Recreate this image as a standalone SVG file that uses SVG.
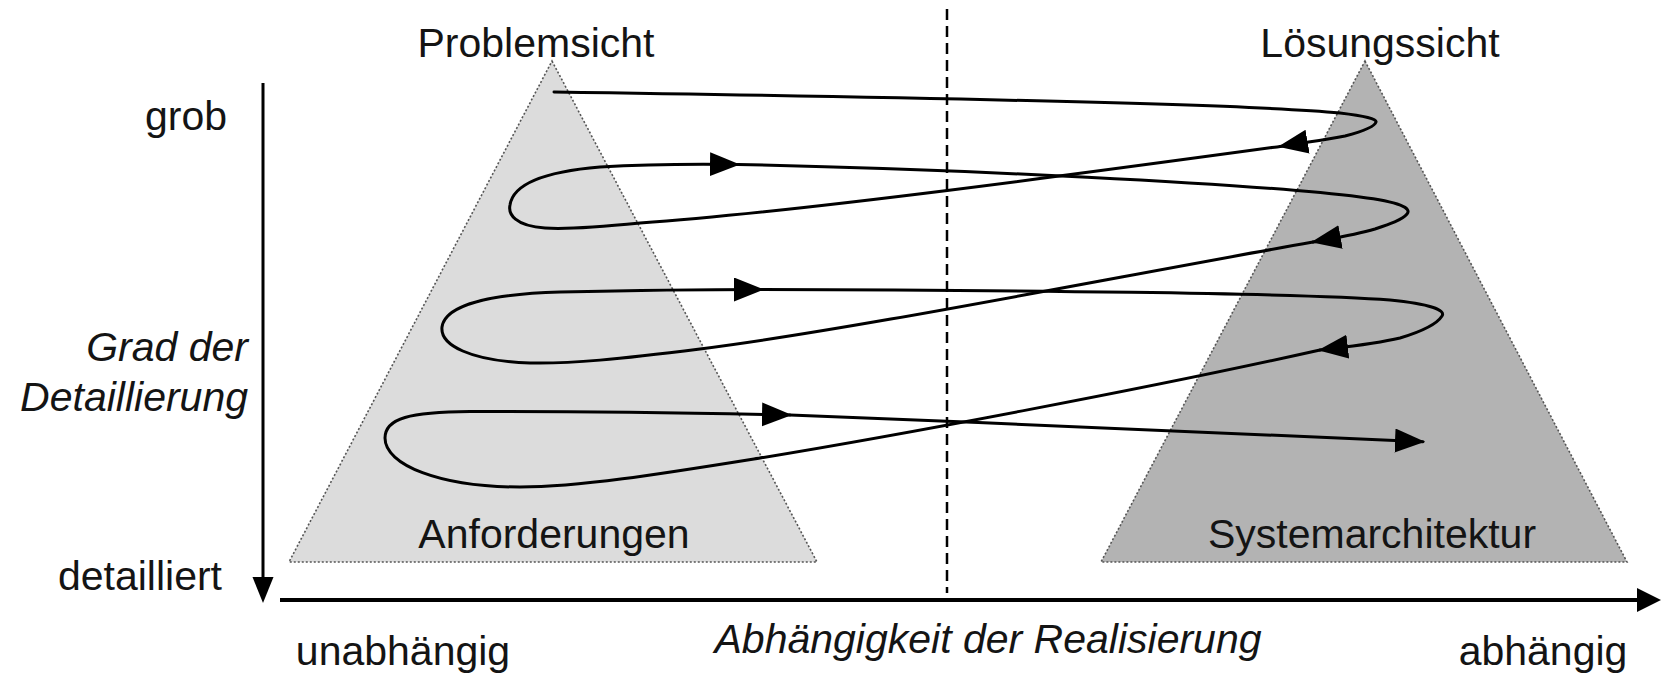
<svg xmlns="http://www.w3.org/2000/svg" width="1663" height="678" viewBox="0 0 1663 678">
<style>
text{font-family:"Liberation Sans",Arial,sans-serif;font-size:41px;fill:#141414}
.it{font-style:italic}
.tri{stroke:#555;stroke-width:1.6;stroke-dasharray:2,2}
.spiral{fill:none;stroke:#000;stroke-width:3;stroke-linecap:round}
.axis{stroke:#000;fill:none}
</style>
<defs>
<marker id="ah" markerUnits="userSpaceOnUse" markerWidth="32" markerHeight="26" refX="28" refY="12" orient="auto">
<path d="M0,0 L30,12 L0,24 Z" fill="#000"/>
</marker>
</defs>
<rect width="1663" height="678" fill="#fff"/>
<g id="problemsicht">
<polygon class="tri" points="552,61 817,562 289,562" fill="#dcdcdc"/>
<text x="536" y="57" text-anchor="middle">Problemsicht</text>
<text x="554" y="548" text-anchor="middle">Anforderungen</text>
</g>
<g id="loesungssicht">
<polygon class="tri" points="1365,61 1627,562 1101,562" fill="#b3b3b3"/>
<text x="1380" y="57" text-anchor="middle">Lösungssicht</text>
<text x="1372" y="548" text-anchor="middle">Systemarchitektur</text>
</g>
<g id="divider">
<line x1="947" y1="9" x2="947" y2="593" stroke="#000" stroke-width="2.5" stroke-dasharray="11,6"/>
</g>
<g id="y-axis">
<line class="axis" x1="263" y1="83" x2="263" y2="580" stroke-width="3"/>
<polygon points="252.5,577 273.5,577 263,603" fill="#000"/>
<text x="227" y="130" text-anchor="end">grob</text>
<text class="it" x="248" y="361" text-anchor="end">Grad der</text>
<text class="it" x="248" y="411" text-anchor="end">Detaillierung</text>
<text x="222" y="590" text-anchor="end">detailliert</text>
</g>
<g id="x-axis">
<line class="axis" x1="280" y1="600" x2="1640" y2="600" stroke-width="4"/>
<polygon points="1637,588 1661,600 1637,612" fill="#000"/>
<text x="403" y="665" text-anchor="middle">unabhängig</text>
<text class="it" x="988" y="653" text-anchor="middle">Abhängigkeit der Realisierung</text>
<text x="1543" y="665" text-anchor="middle">abhängig</text>
</g>
<g id="connectors">
<path class="spiral" marker-end="url(#ah)" d="M554,92 C900,97 1250,104 1340,113 C1365,116 1377,119 1376,122 C1375,127 1360,132 1345,136 C1325,140 1300,143 1280,146.5"/>
<path class="spiral" marker-end="url(#ah)" d="M1280,146.5 C1100,171 800,212 640,223 C590,228 560,229 545,228 C515,226 508,214 510,205 C513,185 540,172 600,167 C650,164 700,164 738,164.5"/>
<path class="spiral" marker-end="url(#ah)" d="M738,164.5 C950,169 1250,183 1360,197 C1400,202 1412,208 1407,214 C1402,220 1390,224 1375,229 C1355,235 1335,238 1313,242"/>
<path class="spiral" marker-end="url(#ah)" d="M1313,242 C1100,280 850,330 700,349 C620,359 570,364 530,363 C470,361 440,345 442,327 C445,305 490,294 560,292 C650,290 710,289.5 762,289.5"/>
<path class="spiral" marker-end="url(#ah)" d="M762,289.5 C1000,290 1300,293 1390,300 C1430,304 1446,310 1442,316 C1437,324 1420,332 1400,338 C1375,344 1345,347 1320,350"/>
<path class="spiral" marker-end="url(#ah)" d="M1320,350 C1150,388 900,435 760,458 C660,474 580,487 520,487 C440,487 385,465 385,438 C385,418 410,412 470,411.5 C600,411 700,413 790,415"/>
<path class="spiral" marker-end="url(#ah)" d="M790,415 C1000,423 1200,432 1423,441.7"/>
</g>
</svg>
